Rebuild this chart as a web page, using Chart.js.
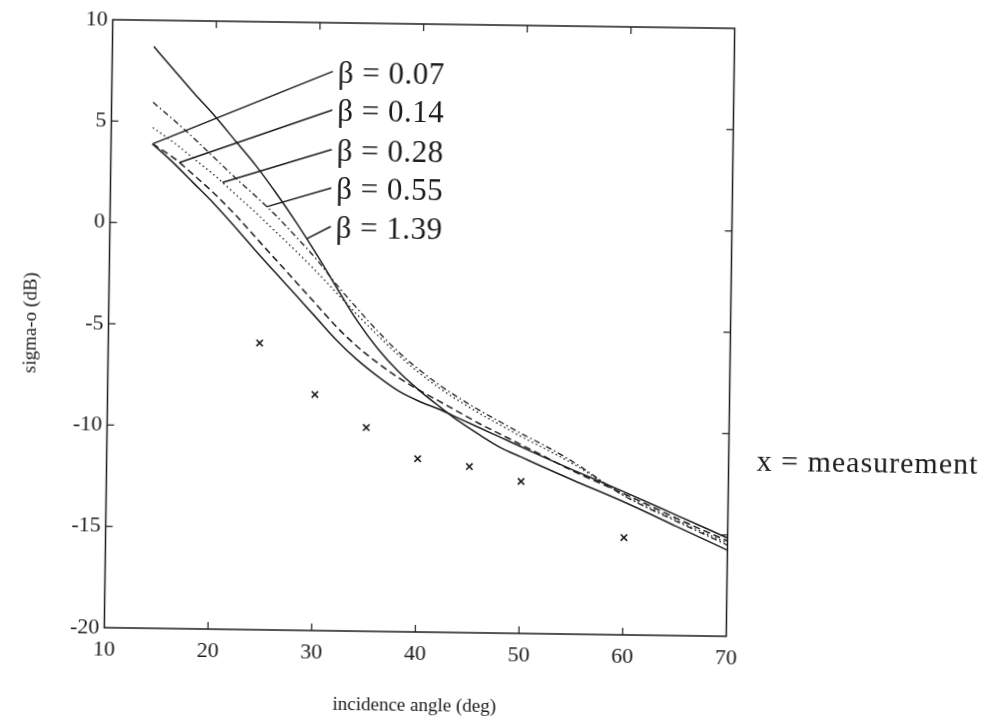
<!DOCTYPE html>
<html>
<head>
<meta charset="utf-8">
<title>sigma-o vs incidence angle</title>
<script src="https://cdn.jsdelivr.net/npm/chart.js@4"></script>
<style>
    html, body { margin: 0; padding: 0; background: #fff; }
    #wrap { width: 995px; height: 719px; overflow: hidden; background: #fff; }
    /* the scanned figure sits slightly tilted */
    #chart { display: block; transform: rotate(0.8deg); transform-origin: 419px 328px; }
</style>
</head>
<body>
<div id="wrap"><canvas id="chart" width="995" height="719"></canvas></div>
<script>
// Model curves (incidence angle in deg, sigma-o in dB)
const angles = [14, 16, 18, 20, 22, 24, 26, 28, 30, 32, 34, 36, 38, 40, 42, 44, 46, 48, 50, 52, 55, 60, 65, 70];
const beta007 = [3.9, 3.0, 2.0, 1.0, -0.1, -1.25, -2.35, -3.45, -4.55, -5.65, -6.6, -7.4, -8.1, -8.6, -9.0, -9.45, -9.9, -10.35, -10.8, -11.25, -11.9, -12.95, -14.05, -15.15];
const beta014 = [3.9, 3.25, 2.4, 1.5, 0.5, -0.6, -1.7, -2.8, -3.9, -5.0, -5.95, -6.75, -7.45, -8.05, -8.6, -9.15, -9.7, -10.2, -10.7, -11.2, -11.95, -13.05, -14.2, -15.3];
const beta028 = [4.7, 4.0, 3.2, 2.4, 1.5, 0.6, -0.35, -1.3, -2.3, -3.35, -4.4, -5.4, -6.35, -7.2, -7.95, -8.6, -9.2, -9.75, -10.3, -10.8, -11.6, -13.1, -14.3, -15.4];
const beta055 = [5.95, 5.1, 4.2, 3.25, 2.3, 1.4, 0.45, -0.6, -1.7, -2.95, -4.1, -5.2, -6.2, -7.05, -7.8, -8.45, -9.05, -9.6, -10.15, -10.65, -11.5, -13.15, -14.35, -15.5];
const beta139 = [8.7, 7.55, 6.4, 5.3, 4.1, 2.9, 1.55, 0.1, -1.45, -3.1, -4.7, -6.05, -7.15, -8.05, -8.85, -9.6, -10.25, -10.85, -11.3, -11.75, -12.4, -13.45, -14.6, -15.75];

// Measurements
const measAngles = [24.6, 30, 35, 40, 45, 50, 60];
const measValues = [-5.85, -8.35, -9.95, -11.45, -11.8, -12.5, -15.2];

// Axis ticks
const xTickValues = [10, 20, 30, 40, 50, 60, 70];
const yTickValues = [-20, -15, -10, -5, 0, 5, 10];

// Curve labels with leader lines
const betaLabels = ['β = 0.07', 'β = 0.14', 'β = 0.28', 'β = 0.55', 'β = 1.39'];
const labelLevels = [7.45, 5.55, 3.6, 1.7, -0.2];
const leaderAngles = [14, 16.6, 20.8, 25.1, 29.0];
const labelAngle = 31.3;

const INK = '#1c1c1c';
const SERIF = '"Liberation Serif", "DejaVu Serif", serif';

function line(ctx, x1, y1, x2, y2) {
    ctx.beginPath();
    ctx.moveTo(x1, y1);
    ctx.lineTo(x2, y2);
    ctx.stroke();
}

// value of a curve at an angle, straight between the stored points
function valueAt(series, a) {
    for (let i = 1; i < angles.length; i++) {
        if (a <= angles[i]) {
            const t = (a - angles[i - 1]) / (angles[i] - angles[i - 1]);
            return series[i - 1] + t * (series[i] - series[i - 1]);
        }
    }
    return series[series.length - 1];
}

function curve(values, dash, width) {
    return {
        data: angles.map((a, i) => ({ x: a, y: values[i] })),
        borderColor: INK,
        borderWidth: width,
        borderDash: dash,
        pointRadius: 0,
        fill: false,
        cubicInterpolationMode: 'monotone'
    };
}

const curves = [
    curve(beta007, [], 1.5),
    curve(beta014, [7, 4], 1.5),
    curve(beta028, [1.5, 3], 1.3),
    curve(beta055, [6, 3, 1.5, 3], 1.3),
    curve(beta139, [], 1.5)
];

// Frame, inward ticks, beta labels and the measurement key
const framePlugin = {
    id: 'frame',
    afterDatasetsDraw(chart) {
        const { ctx, chartArea: a, scales: { x, y } } = chart;
        const TICK = 7;
        ctx.save();
        ctx.strokeStyle = INK;
        ctx.lineWidth = 1.5;
        ctx.strokeRect(a.left, a.top, a.right - a.left, a.bottom - a.top);

        ctx.lineWidth = 1.2;
        xTickValues.forEach(v => {
            if (v === x.min || v === x.max) return;
            const px = x.getPixelForValue(v);
            line(ctx, px, a.bottom, px, a.bottom - TICK);
            line(ctx, px, a.top, px, a.top + TICK);
        });
        yTickValues.forEach(v => {
            if (v === y.min || v === y.max) return;
            const py = y.getPixelForValue(v);
            line(ctx, a.left, py, a.left + TICK, py);
            line(ctx, a.right, py, a.right - TICK, py);
        });

        // leader lines
        const series = [beta007, beta014, beta028, beta055, beta139];
        const lx = x.getPixelForValue(labelAngle);
        ctx.lineWidth = 1.5;
        ctx.font = '31px ' + SERIF;
        ctx.letterSpacing = '0.5px';
        ctx.fillStyle = INK;
        ctx.textAlign = 'left';
        ctx.textBaseline = 'middle';
        betaLabels.forEach((text, i) => {
            const ly = y.getPixelForValue(labelLevels[i]);
            const ex = x.getPixelForValue(leaderAngles[i]);
            const ey = y.getPixelForValue(valueAt(series[i], leaderAngles[i]));
            line(ctx, ex, ey, lx, ly - 3);
            ctx.fillText(text, lx + 5, ly);
        });

        // key for the markers
        ctx.font = '30px ' + SERIF;
        ctx.letterSpacing = '1px';
        ctx.fillText('x = measurement', a.right + 28, y.getPixelForValue(-11.4));
        ctx.restore();
    }
};

const tickFont = { family: SERIF, size: 22 };
const titleFont = { family: SERIF, size: 19 };

new Chart(document.getElementById('chart'), {
    type: 'line',
    data: {
        datasets: [
            ...curves,
            {
                type: 'scatter',
                data: measAngles.map((a, i) => ({ x: a, y: measValues[i] })),
                pointStyle: 'crossRot',
                pointRadius: 4.5,
                pointBorderWidth: 1.6,
                borderColor: INK,
                showLine: false
            }
        ]
    },
    options: {
        responsive: false,
        animation: false,
        events: [],
        layout: { padding: { top: 24, right: 264.5, left: 0, bottom: 0 } },
        plugins: {
            legend: { display: false },
            tooltip: { enabled: false }
        },
        scales: {
            x: {
                type: 'linear',
                min: 10,
                max: 70,
                afterBuildTicks: s => { s.ticks = xTickValues.map(v => ({ value: v })); },
                afterFit: s => { s.height = 87; },
                grid: { display: false, drawTicks: false },
                border: { display: false },
                ticks: { font: tickFont, color: INK, padding: 9, maxRotation: 0, autoSkip: false },
                title: {
                    display: true,
                    text: 'incidence angle (deg)',
                    font: titleFont,
                    color: INK,
                    padding: { top: 0, bottom: 2 }
                }
            },
            y: {
                type: 'linear',
                min: -20,
                max: 10,
                afterBuildTicks: s => { s.ticks = yTickValues.map(v => ({ value: v })); },
                afterFit: s => { s.width = 108.5; },
                grid: { display: false, drawTicks: false },
                border: { display: false },
                ticks: { font: tickFont, color: INK, padding: 5, autoSkip: false },
                title: {
                    display: true,
                    text: 'sigma-o (dB)',
                    font: titleFont,
                    color: INK,
                    padding: { top: 20, bottom: 0 }
                }
            }
        }
    },
    plugins: [framePlugin]
});
</script>
</body>
</html>
